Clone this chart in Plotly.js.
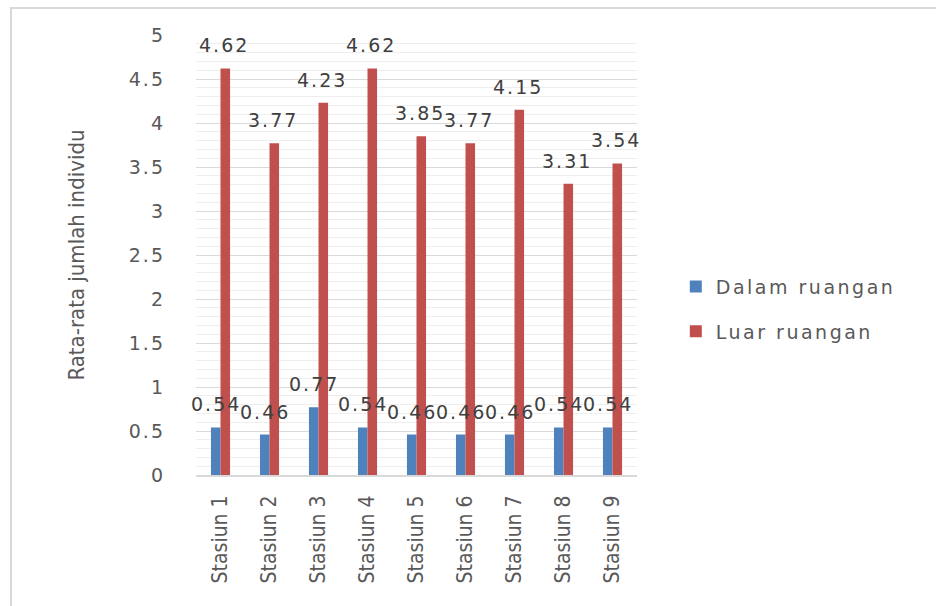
<!DOCTYPE html>
<html>
<head>
<meta charset="utf-8">
<script src="https://cdn.plot.ly/plotly-3.0.1.min.js"></script>
<style>
  html, body { margin: 0; padding: 0; background: #ffffff; }
  #chart { width: 936px; height: 606px; }
  #frame {
    position: absolute; left: 10px; top: 7px; right: 0; bottom: 0;
    border-left: 2px solid #d9d9d9; border-top: 2px solid #d9d9d9;
    pointer-events: none;
  }
  .annotation-text { letter-spacing: 2px; }
  .ytick text { letter-spacing: 2px; }
  text.legendtext { letter-spacing: 2.5px; }
</style>
</head>
<body>
<div id="chart"></div>
<div id="frame"></div>
<script>
// Average number of individuals per station, indoor vs outdoor
const stations = ['Stasiun 1', 'Stasiun 2', 'Stasiun 3', 'Stasiun 4', 'Stasiun 5',
                  'Stasiun 6', 'Stasiun 7', 'Stasiun 8', 'Stasiun 9'];
const dalamRuangan = [0.54, 0.46, 0.77, 0.54, 0.46, 0.46, 0.46, 0.54, 0.54];
const luarRuangan  = [4.62, 3.77, 4.23, 4.62, 3.85, 3.77, 4.15, 3.31, 3.54];
const seriesNames = ['Dalam ruangan', 'Luar ruangan'];
const yTicks = [0, 0.5, 1, 1.5, 2, 2.5, 3, 3.5, 4, 4.5, 5];

const BLUE = '#4f81bd';
const RED = '#c0504d';
const wideFont = 'DejaVu Sans, Verdana, sans-serif';
const narrowFont = 'Liberation Sans Narrow, DejaVu Sans Condensed, Arial Narrow, sans-serif';
const numFont = { family: wideFont, size: 19, color: '#404040' };

const traces = [
  { type: 'bar', name: seriesNames[0], x: stations, y: dalamRuangan,
    marker: { color: BLUE }, legendgroup: 'dalam', hoverinfo: 'none' },
  { type: 'bar', name: seriesNames[1], x: stations, y: luarRuangan,
    marker: { color: RED }, legendgroup: 'luar', hoverinfo: 'none' }
];

// value labels above each bar, offset to sit over their own bar in the group
const annotations = [];
[[dalamRuangan, -5], [luarRuangan, 3]].forEach(([vals, dx]) => {
  vals.forEach((v, i) => {
    annotations.push({
      x: stations[i], y: v, xref: 'x', yref: 'y',
      text: v.toFixed(2), showarrow: false,
      xshift: dx, yshift: 23, yanchor: 'middle', xanchor: 'center',
      font: numFont
    });
  });
});

const layout = {
  width: 936, height: 606,
  margin: { l: 196, r: 299, t: 35, b: 131 },
  paper_bgcolor: '#ffffff', plot_bgcolor: '#ffffff',
  barmode: 'group', bargap: 0.61, bargroupgap: 0,
  xaxis: {
    type: 'category', range: [-0.5, stations.length - 0.5], automargin: false,
    tickangle: -90,
    tickfont: { family: narrowFont, size: 21, color: '#595959' },
    showline: true, linecolor: '#d9d9d9', linewidth: 2,
    ticks: '', showgrid: false, ticklabelstandoff: 10, fixedrange: true
  },
  yaxis: {
    range: [0, 5], automargin: false, tickmode: 'array', tickvals: yTicks,
    ticktext: yTicks.map(String),
    tickfont: { family: wideFont, size: 19, color: '#595959' },
    showgrid: true, gridcolor: '#d9d9d9', gridwidth: 1,
    minor: { dtick: 0.1, tick0: 0, showgrid: true, gridcolor: '#eeeeee', gridwidth: 1 },
    zeroline: false, showline: false, ticks: '', ticklabelstandoff: 30,
    title: { text: 'Rata-rata jumlah individu',
             font: { family: narrowFont, size: 22, color: '#595959' }, standoff: 38 },
    fixedrange: true
  },
  legend: {
    x: 1.088, y: 0.377, xanchor: 'left', yanchor: 'middle',
    traceorder: 'grouped', tracegroupgap: 17,
    font: { family: wideFont, size: 19, color: '#595959' },
    bgcolor: 'rgba(0,0,0,0)'
  },
  annotations: annotations,
  showlegend: true
};

Plotly.newPlot('chart', traces, layout, { displayModeBar: false, staticPlot: true });
</script>
</body>
</html>
